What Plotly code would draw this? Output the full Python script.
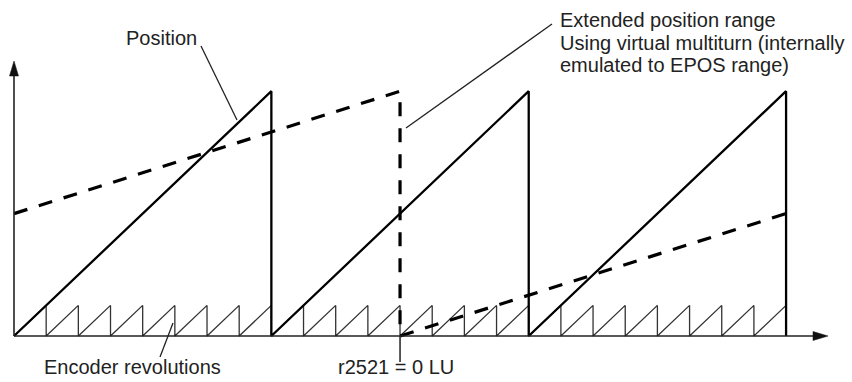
import plotly.graph_objects as go

W, H = 852, 382

# ---- data (units: encoder revolutions) ----
position_x = [0, 8, 8, 16, 16, 24, 24]
position_y = [0, 8, 0, 8, 0, 8, 0]

encoder_rev_starts = [0, 1, 2, 3, 4, 5, 6, 7, 8, 9, 10, 11, 12,
                      13, 14, 15, 16, 17, 18, 19, 20, 21, 22, 23]
encoder_tooth_height = 1

extended_x = [0, 12, 12, 24]
extended_y = [4, 8, 0, 4]

zero_point_x = 12

labels = {
    "position": "Position",
    "encoder": "Encoder revolutions",
    "zero": "r2521 = 0 LU",
    "extended": ["Extended position range",
                 "Using virtual multiturn (internally",
                 "emulated to EPOS range)"],
}

# ---- layout helpers (pixel -> data / paper) ----
X0_PX, XSCALE = 14, 32.17
Y0_PX, YSCALE = 336, 30.6


def px(x):
    return x / W


def py(y):
    return 1 - y / H


enc_x, enc_y = [], []
for s in encoder_rev_starts:
    enc_x += [s, s + 1, s + 1]
    enc_y += [0, encoder_tooth_height, 0]

fig = go.Figure()
fig.add_trace(go.Scatter(x=enc_x, y=enc_y, mode="lines",
                         line=dict(color="#333333", width=1.3), hoverinfo="skip"))
fig.add_trace(go.Scatter(x=position_x, y=position_y, mode="lines",
                         line=dict(color="#000000", width=2.3), hoverinfo="skip"))
fig.add_trace(go.Scatter(x=extended_x, y=extended_y, mode="lines",
                         line=dict(color="#000000", width=3.2, dash="14px,12px"),
                         hoverinfo="skip"))

xr = [(0 - X0_PX) / XSCALE, (W - X0_PX) / XSCALE]
yr = [(Y0_PX - H) / YSCALE, (Y0_PX - 0) / YSCALE]

shapes = []
# axes
shapes.append(dict(type="line", xref="paper", yref="paper",
                   x0=px(14), y0=py(336), x1=px(818), y1=py(336),
                   line=dict(color="#222222", width=1.6)))
shapes.append(dict(type="line", xref="paper", yref="paper",
                   x0=px(14), y0=py(336), x1=px(14), y1=py(72),
                   line=dict(color="#222222", width=1.6)))
# arrowheads
shapes.append(dict(type="path", xref="paper", yref="paper",
                   path=f"M {px(9.5)} {py(76)} L {px(14)} {py(61)} L {px(18.5)} {py(76)} Z",
                   fillcolor="#111111", line=dict(color="#111111", width=0.5)))
shapes.append(dict(type="path", xref="paper", yref="paper",
                   path=f"M {px(813)} {py(331.5)} L {px(828)} {py(336)} L {px(813)} {py(340.5)} Z",
                   fillcolor="#111111", line=dict(color="#111111", width=0.5)))
# zero tick
shapes.append(dict(type="line", xref="x", yref="paper",
                   x0=zero_point_x, y0=py(336), x1=zero_point_x, y1=py(362),
                   line=dict(color="#222222", width=1.5)))
# leader lines
for (a, b, c, d) in [(201, 46, 237, 120), (173, 323, 160, 357), (552, 24, 406, 128)]:
    shapes.append(dict(type="line", xref="paper", yref="paper",
                       x0=px(a), y0=py(b), x1=px(c), y1=py(d),
                       line=dict(color="#222222", width=1.3)))

font = dict(family="Liberation Sans, Arial, sans-serif", size=20, color="#222222")
ann = []
ann.append(dict(text=labels["position"], xref="paper", yref="paper",
                x=px(161), y=py(38), xanchor="center", yanchor="middle",
                showarrow=False, font=font))
ann.append(dict(text=labels["encoder"], xref="paper", yref="paper",
                x=px(132), y=py(367), xanchor="center", yanchor="middle",
                showarrow=False, font=font))
ann.append(dict(text=labels["zero"], xref="paper", yref="paper",
                x=px(396), y=py(367), xanchor="center", yanchor="middle",
                showarrow=False, font=font))
for i, t in enumerate(labels["extended"]):
    ann.append(dict(text=t, xref="paper", yref="paper",
                    x=px(558), y=py(20 + 22.5 * i), xanchor="left", yanchor="middle",
                    showarrow=False, font=font))

fig.update_layout(
    width=W, height=H,
    margin=dict(l=0, r=0, t=0, b=0),
    paper_bgcolor="white", plot_bgcolor="white",
    showlegend=False,
    xaxis=dict(range=xr, visible=False, fixedrange=True),
    yaxis=dict(range=yr, visible=False, fixedrange=True),
    shapes=shapes, annotations=ann,
)

fig.write_html("out.html", config={"displayModeBar": False},
               post_script="document.body.style.margin='0px';")
